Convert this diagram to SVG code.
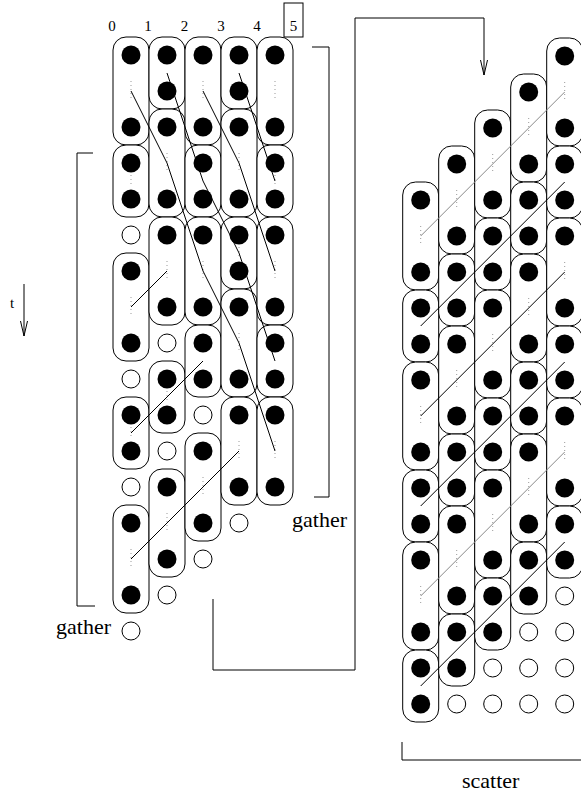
<svg xmlns="http://www.w3.org/2000/svg" width="581" height="794" viewBox="0 0 581 794">
<style>
.p{fill:#fff;stroke:#000;stroke-width:1}
.f{fill:#000}
.o{fill:#fff;stroke:#000;stroke-width:1}
.d{stroke:#999;stroke-width:1;stroke-dasharray:1 3;fill:none}
.ln{fill:none;stroke:#000;stroke-width:1;stroke-linejoin:round}
.gr{stroke:#888}
.br{fill:none;stroke:#000;stroke-width:1}
text{font-family:"Liberation Serif","Times New Roman",serif;fill:#000}
.num{font-size:15px;text-anchor:middle}
.lab{font-size:22px}
</style>
<defs>
<marker id="ah" markerUnits="userSpaceOnUse" markerWidth="20" markerHeight="10" refX="0" refY="0" orient="auto" viewBox="-16 -5 17 10" overflow="visible">
<path d="M-15,-3.5 L0,0 L-15,3.5" fill="none" stroke="#000" stroke-width="1"/>
</marker>
</defs>
<rect width="581" height="794" fill="#fff"/>

<!-- labels -->
<g id="labels">
<text class="num" x="112" y="31">0</text>
<text class="num" x="148" y="31">1</text>
<text class="num" x="184.5" y="31">2</text>
<text class="num" x="221" y="31">3</text>
<text class="num" x="257" y="31">4</text>
<text class="num" x="293.5" y="31">5</text>
<rect x="284" y="3" width="19" height="34" class="br"/>
<text class="num" x="12" y="308">t</text>
<text class="lab" x="56" y="634">gather</text>
<text class="lab" x="292" y="527">gather</text>
<text class="lab" x="462" y="788">scatter</text>
</g>

<!-- LEFT PANEL -->
<g id="left" transform="translate(131,55)">
<g id="L0a"><rect class="p" x="-18" y="-18" width="36" height="108" rx="13"/><circle class="f" cx="0" cy="0" r="9.5"/><circle class="f" cx="0" cy="72" r="9.5"/><line class="d" x1="0" y1="26" x2="0" y2="46"/></g>
<g id="L0b"><rect class="p" x="-18" y="90" width="36" height="72" rx="13"/><circle class="f" cx="0" cy="108" r="9.5"/><circle class="f" cx="0" cy="144" r="9.5"/><line class="d" x1="0" y1="120" x2="0" y2="132"/></g>
<g id="L0c"><rect class="p" x="-18" y="198" width="36" height="108" rx="13"/><circle class="f" cx="0" cy="216" r="9.5"/><circle class="f" cx="0" cy="288" r="9.5"/><line class="d" x1="0" y1="242" x2="0" y2="262"/></g>
<g id="L0d"><rect class="p" x="-18" y="342" width="36" height="72" rx="13"/><circle class="f" cx="0" cy="360" r="9.5"/><circle class="f" cx="0" cy="396" r="9.5"/><line class="d" x1="0" y1="372" x2="0" y2="384"/></g>
<g id="L0e"><rect class="p" x="-18" y="450" width="36" height="108" rx="13"/><circle class="f" cx="0" cy="468" r="9.5"/><circle class="f" cx="0" cy="540" r="9.5"/><line class="d" x1="0" y1="494" x2="0" y2="514"/></g>

<g id="L1a"><rect class="p" x="18" y="-18" width="36" height="72" rx="13"/><circle class="f" cx="36" cy="0" r="9.5"/><circle class="f" cx="36" cy="36" r="9.5"/></g>
<g id="L1b"><rect class="p" x="18" y="54" width="36" height="108" rx="13"/><circle class="f" cx="36" cy="72" r="9.5"/><circle class="f" cx="36" cy="144" r="9.5"/><line class="d" x1="36" y1="98" x2="36" y2="118"/></g>
<g id="L1c"><rect class="p" x="18" y="162" width="36" height="108" rx="13"/><circle class="f" cx="36" cy="180" r="9.5"/><circle class="f" cx="36" cy="252" r="9.5"/><line class="d" x1="36" y1="206" x2="36" y2="226"/></g>
<g id="L1d"><rect class="p" x="18" y="306" width="36" height="72" rx="13"/><circle class="f" cx="36" cy="324" r="9.5"/><circle class="f" cx="36" cy="360" r="9.5"/><line class="d" x1="36" y1="336" x2="36" y2="348"/></g>
<g id="L1e"><rect class="p" x="18" y="414" width="36" height="108" rx="13"/><circle class="f" cx="36" cy="432" r="9.5"/><circle class="f" cx="36" cy="504" r="9.5"/><line class="d" x1="36" y1="458" x2="36" y2="478"/></g>

<g id="L2a"><rect class="p" x="54" y="-18" width="36" height="108" rx="13"/><circle class="f" cx="72" cy="0" r="9.5"/><circle class="f" cx="72" cy="72" r="9.5"/><line class="d" x1="72" y1="26" x2="72" y2="46"/></g>
<g id="L2b"><rect class="p" x="54" y="90" width="36" height="72" rx="13"/><circle class="f" cx="72" cy="108" r="9.5"/><circle class="f" cx="72" cy="144" r="9.5"/></g>
<g id="L2c"><rect class="p" x="54" y="162" width="36" height="108" rx="13"/><circle class="f" cx="72" cy="180" r="9.5"/><circle class="f" cx="72" cy="252" r="9.5"/><line class="d" x1="72" y1="206" x2="72" y2="226"/></g>
<g id="L2d"><rect class="p" x="54" y="270" width="36" height="72" rx="13"/><circle class="f" cx="72" cy="288" r="9.5"/><circle class="f" cx="72" cy="324" r="9.5"/></g>
<g id="L2e"><rect class="p" x="54" y="378" width="36" height="108" rx="13"/><circle class="f" cx="72" cy="396" r="9.5"/><circle class="f" cx="72" cy="468" r="9.5"/><line class="d" x1="72" y1="422" x2="72" y2="442"/></g>

<g id="L3a"><rect class="p" x="90" y="-18" width="36" height="72" rx="13"/><circle class="f" cx="108" cy="0" r="9.5"/><circle class="f" cx="108" cy="36" r="9.5"/></g>
<g id="L3b"><rect class="p" x="90" y="54" width="36" height="108" rx="13"/><circle class="f" cx="108" cy="72" r="9.5"/><circle class="f" cx="108" cy="144" r="9.5"/><line class="d" x1="108" y1="98" x2="108" y2="118"/></g>
<g id="L3c"><rect class="p" x="90" y="162" width="36" height="72" rx="13"/><circle class="f" cx="108" cy="180" r="9.5"/><circle class="f" cx="108" cy="216" r="9.5"/><line class="d" x1="108" y1="192" x2="108" y2="204"/></g>
<g id="L3d"><rect class="p" x="90" y="234" width="36" height="108" rx="13"/><circle class="f" cx="108" cy="252" r="9.5"/><circle class="f" cx="108" cy="324" r="9.5"/><line class="d" x1="108" y1="278" x2="108" y2="298"/></g>
<g id="L3e"><rect class="p" x="90" y="342" width="36" height="108" rx="13"/><circle class="f" cx="108" cy="360" r="9.5"/><circle class="f" cx="108" cy="432" r="9.5"/><line class="d" x1="108" y1="386" x2="108" y2="406"/></g>

<g id="L4a"><rect class="p" x="126" y="-18" width="36" height="108" rx="13"/><circle class="f" cx="144" cy="0" r="9.5"/><circle class="f" cx="144" cy="72" r="9.5"/><line class="d" x1="144" y1="26" x2="144" y2="46"/></g>
<g id="L4b"><rect class="p" x="126" y="90" width="36" height="72" rx="13"/><circle class="f" cx="144" cy="108" r="9.5"/><circle class="f" cx="144" cy="144" r="9.5"/><line class="d" x1="144" y1="120" x2="144" y2="132"/></g>
<g id="L4c"><rect class="p" x="126" y="162" width="36" height="108" rx="13"/><circle class="f" cx="144" cy="180" r="9.5"/><circle class="f" cx="144" cy="252" r="9.5"/><line class="d" x1="144" y1="206" x2="144" y2="226"/></g>
<g id="L4d"><rect class="p" x="126" y="270" width="36" height="72" rx="13"/><circle class="f" cx="144" cy="288" r="9.5"/><circle class="f" cx="144" cy="324" r="9.5"/></g>
<g id="L4e"><rect class="p" x="126" y="342" width="36" height="108" rx="13"/><circle class="f" cx="144" cy="360" r="9.5"/><circle class="f" cx="144" cy="432" r="9.5"/><line class="d" x1="144" y1="386" x2="144" y2="406"/></g>

<g id="L-empty">
<circle class="o" cx="0" cy="180" r="9"/><circle class="o" cx="0" cy="324" r="9"/><circle class="o" cx="0" cy="432" r="9"/><circle class="o" cx="0" cy="576" r="9"/>
<circle class="o" cx="36" cy="288" r="9"/><circle class="o" cx="36" cy="396" r="9"/><circle class="o" cx="36" cy="540" r="9"/>
<circle class="o" cx="72" cy="360" r="9"/><circle class="o" cx="72" cy="504" r="9"/>
<circle class="o" cx="108" cy="468" r="9"/>
</g>
<g id="L-lines">
<polyline class="ln" points="0,36 36,108 72,216 108,288 144,396"/>
<polyline class="ln" points="36,18 72,126 108,198 144,306"/>
<polyline class="ln" points="72,36 108,108 144,216"/>
<polyline class="ln" points="108,18 144,126"/>
<polyline class="ln" points="0,252 36,216"/>
<polyline class="ln" points="0,378 72,306"/>
<polyline class="ln" points="0,504 108,396"/>
</g>
</g>

<!-- RIGHT PANEL -->
<g id="right" transform="translate(420.7,56)">
<g id="R0a"><rect class="p" x="-18" y="126" width="36" height="108" rx="13"/><circle class="f" cx="0" cy="144" r="9.5"/><circle class="f" cx="0" cy="216" r="9.5"/><line class="d" x1="0" y1="170" x2="0" y2="190"/></g>
<g id="R0b"><rect class="p" x="-18" y="234" width="36" height="72" rx="13"/><circle class="f" cx="0" cy="252" r="9.5"/><circle class="f" cx="0" cy="288" r="9.5"/></g>
<g id="R0c"><rect class="p" x="-18" y="306" width="36" height="108" rx="13"/><circle class="f" cx="0" cy="324" r="9.5"/><circle class="f" cx="0" cy="396" r="9.5"/><line class="d" x1="0" y1="350" x2="0" y2="370"/></g>
<g id="R0d"><rect class="p" x="-18" y="414" width="36" height="72" rx="13"/><circle class="f" cx="0" cy="432" r="9.5"/><circle class="f" cx="0" cy="468" r="9.5"/></g>
<g id="R0e"><rect class="p" x="-18" y="486" width="36" height="108" rx="13"/><circle class="f" cx="0" cy="504" r="9.5"/><circle class="f" cx="0" cy="576" r="9.5"/><line class="d" x1="0" y1="530" x2="0" y2="550"/></g>
<g id="R0f"><rect class="p" x="-18" y="594" width="36" height="72" rx="13"/><circle class="f" cx="0" cy="612" r="9.5"/><circle class="f" cx="0" cy="648" r="9.5"/></g>

<g id="R1a"><rect class="p" x="18" y="90" width="36" height="108" rx="13"/><circle class="f" cx="36" cy="108" r="9.5"/><circle class="f" cx="36" cy="180" r="9.5"/><line class="d" x1="36" y1="134" x2="36" y2="154"/></g>
<g id="R1b"><rect class="p" x="18" y="198" width="36" height="72" rx="13"/><circle class="f" cx="36" cy="216" r="9.5"/><circle class="f" cx="36" cy="252" r="9.5"/></g>
<g id="R1c"><rect class="p" x="18" y="270" width="36" height="108" rx="13"/><circle class="f" cx="36" cy="288" r="9.5"/><circle class="f" cx="36" cy="360" r="9.5"/><line class="d" x1="36" y1="314" x2="36" y2="334"/></g>
<g id="R1d"><rect class="p" x="18" y="378" width="36" height="72" rx="13"/><circle class="f" cx="36" cy="396" r="9.5"/><circle class="f" cx="36" cy="432" r="9.5"/></g>
<g id="R1e"><rect class="p" x="18" y="450" width="36" height="108" rx="13"/><circle class="f" cx="36" cy="468" r="9.5"/><circle class="f" cx="36" cy="540" r="9.5"/><line class="d" x1="36" y1="494" x2="36" y2="514"/></g>
<g id="R1f"><rect class="p" x="18" y="558" width="36" height="72" rx="13"/><circle class="f" cx="36" cy="576" r="9.5"/><circle class="f" cx="36" cy="612" r="9.5"/></g>

<g id="R2a"><rect class="p" x="54" y="54" width="36" height="108" rx="13"/><circle class="f" cx="72" cy="72" r="9.5"/><circle class="f" cx="72" cy="144" r="9.5"/><line class="d" x1="72" y1="98" x2="72" y2="118"/></g>
<g id="R2b"><rect class="p" x="54" y="162" width="36" height="72" rx="13"/><circle class="f" cx="72" cy="180" r="9.5"/><circle class="f" cx="72" cy="216" r="9.5"/></g>
<g id="R2c"><rect class="p" x="54" y="234" width="36" height="108" rx="13"/><circle class="f" cx="72" cy="252" r="9.5"/><circle class="f" cx="72" cy="324" r="9.5"/><line class="d" x1="72" y1="278" x2="72" y2="298"/></g>
<g id="R2d"><rect class="p" x="54" y="342" width="36" height="72" rx="13"/><circle class="f" cx="72" cy="360" r="9.5"/><circle class="f" cx="72" cy="396" r="9.5"/></g>
<g id="R2e"><rect class="p" x="54" y="414" width="36" height="108" rx="13"/><circle class="f" cx="72" cy="432" r="9.5"/><circle class="f" cx="72" cy="504" r="9.5"/><line class="d" x1="72" y1="458" x2="72" y2="478"/></g>
<g id="R2f"><rect class="p" x="54" y="522" width="36" height="72" rx="13"/><circle class="f" cx="72" cy="540" r="9.5"/><circle class="f" cx="72" cy="576" r="9.5"/></g>

<g id="R3a"><rect class="p" x="90" y="18" width="36" height="108" rx="13"/><circle class="f" cx="108" cy="36" r="9.5"/><circle class="f" cx="108" cy="108" r="9.5"/><line class="d" x1="108" y1="62" x2="108" y2="82"/></g>
<g id="R3b"><rect class="p" x="90" y="126" width="36" height="72" rx="13"/><circle class="f" cx="108" cy="144" r="9.5"/><circle class="f" cx="108" cy="180" r="9.5"/></g>
<g id="R3c"><rect class="p" x="90" y="198" width="36" height="108" rx="13"/><circle class="f" cx="108" cy="216" r="9.5"/><circle class="f" cx="108" cy="288" r="9.5"/><line class="d" x1="108" y1="242" x2="108" y2="262"/></g>
<g id="R3d"><rect class="p" x="90" y="306" width="36" height="72" rx="13"/><circle class="f" cx="108" cy="324" r="9.5"/><circle class="f" cx="108" cy="360" r="9.5"/></g>
<g id="R3e"><rect class="p" x="90" y="378" width="36" height="108" rx="13"/><circle class="f" cx="108" cy="396" r="9.5"/><circle class="f" cx="108" cy="468" r="9.5"/><line class="d" x1="108" y1="422" x2="108" y2="442"/></g>
<g id="R3f"><rect class="p" x="90" y="486" width="36" height="72" rx="13"/><circle class="f" cx="108" cy="504" r="9.5"/><circle class="f" cx="108" cy="540" r="9.5"/></g>

<g id="R4a"><rect class="p" x="126" y="-18" width="36" height="108" rx="13"/><circle class="f" cx="144" cy="0" r="9.5"/><circle class="f" cx="144" cy="72" r="9.5"/><line class="d" x1="144" y1="26" x2="144" y2="46"/></g>
<g id="R4b"><rect class="p" x="126" y="90" width="36" height="72" rx="13"/><circle class="f" cx="144" cy="108" r="9.5"/><circle class="f" cx="144" cy="144" r="9.5"/></g>
<g id="R4c"><rect class="p" x="126" y="162" width="36" height="108" rx="13"/><circle class="f" cx="144" cy="180" r="9.5"/><circle class="f" cx="144" cy="252" r="9.5"/><line class="d" x1="144" y1="206" x2="144" y2="226"/></g>
<g id="R4d"><rect class="p" x="126" y="270" width="36" height="72" rx="13"/><circle class="f" cx="144" cy="288" r="9.5"/><circle class="f" cx="144" cy="324" r="9.5"/></g>
<g id="R4e"><rect class="p" x="126" y="342" width="36" height="108" rx="13"/><circle class="f" cx="144" cy="360" r="9.5"/><circle class="f" cx="144" cy="432" r="9.5"/><line class="d" x1="144" y1="386" x2="144" y2="406"/></g>
<g id="R4f"><rect class="p" x="126" y="450" width="36" height="72" rx="13"/><circle class="f" cx="144" cy="468" r="9.5"/><circle class="f" cx="144" cy="504" r="9.5"/></g>

<g id="R-empty">
<circle class="o" cx="36" cy="648" r="9"/>
<circle class="o" cx="72" cy="612" r="9"/><circle class="o" cx="72" cy="648" r="9"/>
<circle class="o" cx="108" cy="576" r="9"/><circle class="o" cx="108" cy="612" r="9"/><circle class="o" cx="108" cy="648" r="9"/>
<circle class="o" cx="144" cy="540" r="9"/><circle class="o" cx="144" cy="576" r="9"/><circle class="o" cx="144" cy="612" r="9"/><circle class="o" cx="144" cy="648" r="9"/>
</g>
<g id="R-lines">
<line class="ln gr" x1="0" y1="180" x2="144" y2="36"/>
<line class="ln" x1="0" y1="270" x2="144" y2="126"/>
<line class="ln" x1="0" y1="360" x2="144" y2="216"/>
<line class="ln" x1="0" y1="450" x2="144" y2="306"/>
<line class="ln gr" x1="0" y1="540" x2="144" y2="396"/>
<line class="ln" x1="0" y1="630" x2="144" y2="486"/>
</g>
</g>

<!-- connectors and brackets -->
<g id="connectors">
<path class="br" d="M213,599 V670 H355 V18 H484 V75" marker-end="url(#ah)"/>
<path class="br" d="M24,284 V336" marker-end="url(#ah)"/>
<path class="br" d="M93,153 H77 V606 H95"/>
<path class="br" d="M312,47 H329 V497 H314"/>
<path class="br" d="M402,742 V760 H581"/>
</g>
</svg>
